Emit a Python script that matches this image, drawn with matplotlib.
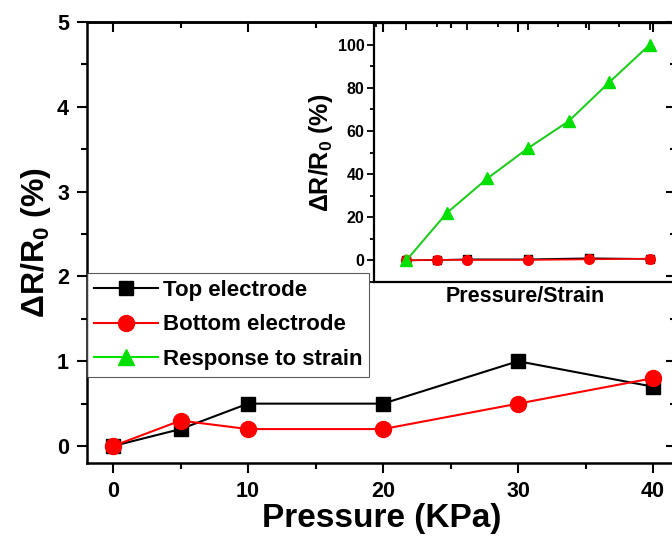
import matplotlib
matplotlib.use("Agg")
import matplotlib.pyplot as plt
from matplotlib.ticker import MultipleLocator

plt.rcParams['font.family'] = ['Liberation Sans', 'DejaVu Sans']
plt.rcParams['font.weight'] = 'bold'
plt.rcParams['mathtext.fontset'] = 'custom'
plt.rcParams['mathtext.rm'] = 'Liberation Sans:bold'
plt.rcParams['mathtext.bf'] = 'Liberation Sans:bold'
plt.rcParams['mathtext.it'] = 'Liberation Sans:bold'

# Data
pressure = [0, 5, 10, 20, 30, 40]
top_electrode = [0.0, 0.2, 0.5, 0.5, 1.0, 0.7]
bottom_electrode = [0.0, 0.3, 0.2, 0.2, 0.5, 0.8]
strain_x = [0, 6.67, 13.33, 20, 26.67, 33.33, 40]
strain_response = [0, 22, 38, 52, 64.5, 82.5, 100]

fig = plt.figure(figsize=(6.72, 5.38), dpi=100)
ax = fig.add_axes([87/672, 75/538, (676-87)/672, 441/538])

ax.plot(pressure, top_electrode, color='black', marker='s', markersize=10, lw=1.5, label='Top electrode')
ax.plot(pressure, bottom_electrode, color='red', marker='o', markersize=11.5, lw=1.5, label='Bottom electrode')
ax.plot([], [], color='#00e000', marker='^', markersize=12, lw=1.5, label='Response to strain')

ax.set_xlim(-1.93, 41.7)
ax.set_ylim(-0.2, 5.0)
ax.xaxis.set_major_locator(MultipleLocator(10))
ax.xaxis.set_minor_locator(MultipleLocator(5))
ax.yaxis.set_major_locator(MultipleLocator(1))
ax.yaxis.set_minor_locator(MultipleLocator(0.5))
ax.tick_params(which='both', direction='out', top=False, right=False, width=1.5)
ax.tick_params(which='major', length=7, labelsize=15.5, pad=6)
ax.tick_params(which='minor', length=4)
for s in ax.spines.values():
    s.set_linewidth(1.8)

# mirrored inward ticks on top/right
sec_x = ax.secondary_xaxis('top')
sec_x.xaxis.set_major_locator(MultipleLocator(10))
sec_x.xaxis.set_minor_locator(MultipleLocator(5))
sec_x.tick_params(which='both', direction='in', labeltop=False, width=1.5)
sec_x.tick_params(which='major', length=7)
sec_x.tick_params(which='minor', length=4)
sec_x.spines['top'].set_linewidth(1.8)
sec_y = ax.secondary_yaxis('right')
sec_y.yaxis.set_major_locator(MultipleLocator(1))
sec_y.yaxis.set_minor_locator(MultipleLocator(0.5))
sec_y.tick_params(which='both', direction='in', labelright=False, width=1.5)
sec_y.tick_params(which='major', length=7)
sec_y.tick_params(which='minor', length=4)

ax.set_xlabel('Pressure (KPa)', fontsize=24, fontweight='bold', labelpad=1)
ax.set_ylabel('ΔR/R$_0$ (%)', fontsize=23, fontweight='bold', labelpad=3)

leg = ax.legend(loc='upper left', bbox_to_anchor=(0, 0.431), borderaxespad=0,
                fontsize=16, frameon=True, fancybox=False, edgecolor='#333333',
                handlelength=2.9, handletextpad=0.2, borderpad=0.3, labelspacing=0.62)
leg.get_frame().set_linewidth(0.8)

# Inset
axi = fig.add_axes([374/672, (538-282)/538, (676-374)/672, (282-23)/538])
axi.patch.set_alpha(0)
axi.plot(pressure, top_electrode, color='black', marker='s', markersize=6, lw=1.2)
axi.plot(pressure, bottom_electrode, color='red', marker='o', markersize=7, lw=1.2)
axi.plot(strain_x, strain_response, color='#22cc22', marker='^', markersize=8, lw=1.5,
         markerfacecolor='#00e000', markeredgecolor='#00e000')
axi.set_xlim(-5.3, 44.3)
axi.set_ylim(-10, 110)
axi.yaxis.set_major_locator(MultipleLocator(20))
axi.yaxis.set_minor_locator(MultipleLocator(10))
axi.xaxis.set_major_locator(MultipleLocator(10))
axi.xaxis.set_minor_locator(MultipleLocator(5))
axi.tick_params(axis='y', which='both', direction='out', width=1.3, labelsize=11.5, right=False, pad=2)
axi.tick_params(axis='y', which='major', length=5)
axi.tick_params(axis='y', which='minor', length=3)
axi.tick_params(axis='x', which='both', bottom=False, labelbottom=False, top=True,
                direction='in', width=1.3)
axi.tick_params(axis='x', which='major', length=5)
axi.tick_params(axis='x', which='minor', length=3)
for s in axi.spines.values():
    s.set_linewidth(1.6)
axi.spines['right'].set_visible(False)
axi.set_xlabel('Pressure/Strain', fontsize=15.5, fontweight='bold', labelpad=3)
axi.set_ylabel('ΔR/R$_0$ (%)', fontsize=18, fontweight='bold', labelpad=2)

fig.savefig('out.png', dpi=100)
